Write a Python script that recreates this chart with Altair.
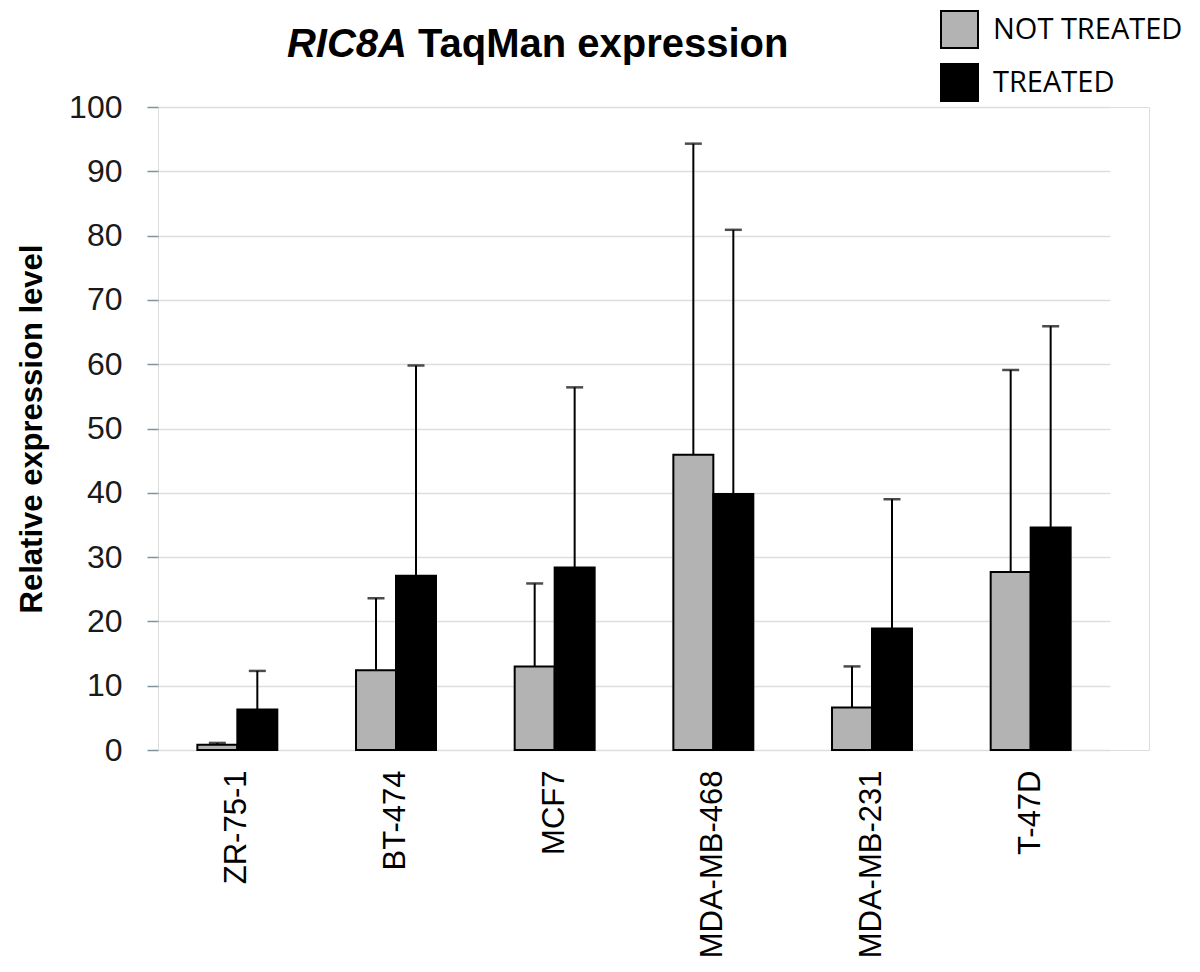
import altair as alt
import pandas as pd

cells = ["ZR-75-1", "BT-474", "MCF7", "MDA-MB-468", "MDA-MB-231", "T-47D"]
groups = ["NOT TREATED", "TREATED"]
not_treated = [0.8, 12.4, 13.0, 45.9, 6.6, 27.7]
treated = [6.3, 27.1, 28.4, 39.8, 18.9, 34.6]
not_treated_err = [0.3, 11.2, 12.9, 48.4, 6.4, 31.4]
treated_err = [6.0, 32.7, 28.0, 41.1, 20.1, 31.3]
title_italic = "RIC8A"
title_rest = "TaqMan expression"
y_title = "Relative expression level"

rows = []
for i, c in enumerate(cells):
    rows.append({"cell": c, "group": groups[0], "value": not_treated[i],
                 "top": not_treated[i] + not_treated_err[i]})
    rows.append({"cell": c, "group": groups[1], "value": treated[i],
                 "top": treated[i] + treated_err[i]})
df = pd.DataFrame(rows)

FRAME = "#7f9599"
x_enc = alt.X("cell:N", sort=cells,
              scale=alt.Scale(range=[0, 952], paddingInner=0.496, paddingOuter=0.248),
              axis=alt.Axis(title=None, labelAngle=-90, labelFontSize=31,
                            labelFont="Liberation Sans", labelColor="black",
                            labelPadding=20, labelLimit=0, ticks=False,
                            domain=False, grid=False))
xoff = alt.XOffset("group:N", sort=groups)
y_scale = alt.Scale(domain=[0, 100], nice=False)

bars = alt.Chart(df).mark_bar(stroke="black", strokeWidth=2).encode(
    x=x_enc,
    xOffset=xoff,
    y=alt.Y("value:Q", scale=y_scale,
            axis=alt.Axis(title=y_title, values=list(range(0, 101, 10)),
                          grid=True, gridColor="#dcdfe0", gridWidth=1.5,
                          domain=False, tickColor=FRAME, tickSize=11, tickWidth=1.5,
                          labelFontSize=32, labelFont="Liberation Sans",
                          labelColor="#1a1a1a", labelPadding=25,
                          titleFontSize=31, titleFont="Liberation Sans",
                          titleFontWeight="bold", titleColor="black",
                          titlePadding=20)),
    color=alt.Color("group:N", sort=groups,
                    scale=alt.Scale(domain=groups, range=["#b3b3b3", "#000000"]),
                    legend=alt.Legend(title=None, orient="none", legendX=782,
                                      legendY=-97, symbolType="square",
                                      symbolSize=1369, symbolStrokeColor="black",
                                      symbolStrokeWidth=2, symbolOpacity=1,
                                      labelFont="Open Sans", labelFontSize=29,
                                      labelColor="black", labelOffset=14,
                                      labelLimit=0, rowPadding=8, padding=0)),
)

err_rule = alt.Chart(df).mark_rule(color="black", strokeWidth=2).encode(
    x=alt.X("cell:N", sort=cells), xOffset=xoff,
    y=alt.Y("value:Q", scale=y_scale), y2="top:Q",
)
err_cap = alt.Chart(df).mark_tick(color="black", orient="horizontal", size=17,
                                  thickness=2.5).encode(
    x=alt.X("cell:N", sort=cells), xOffset=xoff,
    y=alt.Y("top:Q", scale=y_scale),
)

t1 = alt.Chart(pd.DataFrame({"t": [title_italic]})).mark_text(
    font="Liberation Sans", fontSize=40, fontWeight="bold", fontStyle="italic",
    align="right", baseline="alphabetic", color="black").encode(
    text="t:N", x=alt.value(249), y=alt.value(-50))
t2 = alt.Chart(pd.DataFrame({"t": [title_rest]})).mark_text(
    font="Liberation Sans", fontSize=40, fontWeight="bold",
    align="left", baseline="alphabetic", color="black").encode(
    text="t:N", x=alt.value(260), y=alt.value(-50))

chart = alt.layer(bars, err_rule, err_cap, t1, t2).properties(
    width=991, height=643,
    autosize=alt.AutoSizeParams(type="none"),
    padding={"left": 150, "top": 99, "right": 43, "bottom": 212},
).configure_view(stroke=FRAME, strokeWidth=2.5).configure(background="white")

chart.save("out.html", embed_options={"renderer": "svg", "actions": False})
